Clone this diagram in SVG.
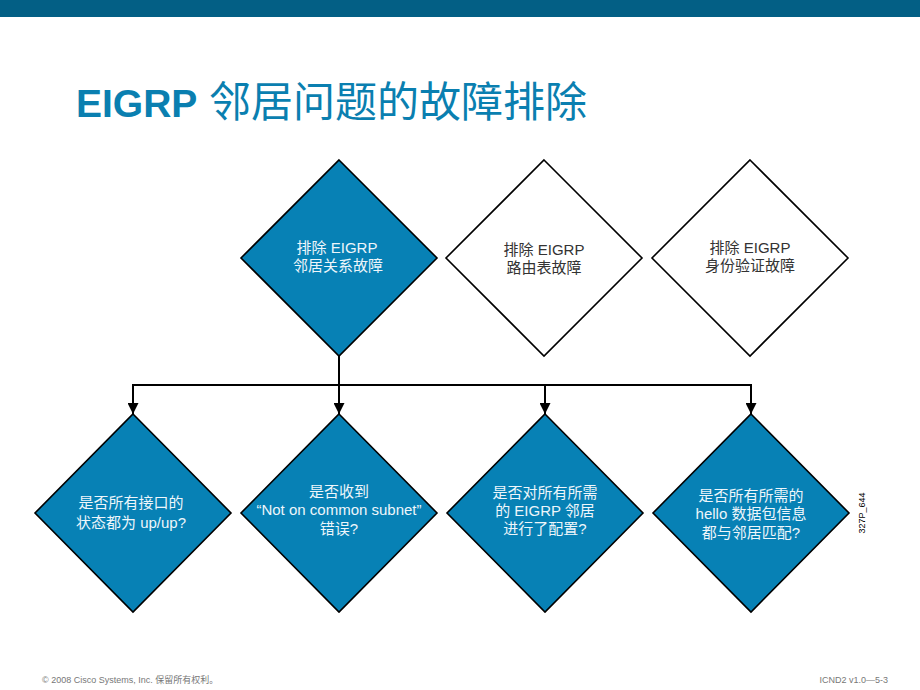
<svg xmlns="http://www.w3.org/2000/svg" width="920" height="690" viewBox="0 0 920 690">
<defs>
<style>
.d{stroke:#000;stroke-width:1.6;stroke-linejoin:miter}
.f{fill:#0781b5}
.w{fill:#fff}
.t{font-family:"Liberation Sans","Noto Sans CJK SC",sans-serif;font-size:15px;text-anchor:middle}
.tw{fill:#eef6fb}
.tk{fill:#333}
.c{stroke:#000;stroke-width:2;fill:none}
</style>
<marker id="ah" markerWidth="11" markerHeight="11" refX="10" refY="5" orient="auto" markerUnits="userSpaceOnUse" viewBox="0 0 10 10">
<path d="M0,0 L10,5 L0,10 Z" fill="#000"/>
</marker>
</defs>
<rect x="0" y="0" width="920" height="690" fill="#fff"/>
<rect x="0" y="0" width="920" height="17" fill="#035f85"/>
<text x="76" y="117" font-family="Liberation Sans,'Noto Sans CJK SC',sans-serif" font-size="39" fill="#0a7fb0"><tspan font-weight="bold">EIGRP</tspan><tspan font-size="42"> 邻居问题的故障排除</tspan></text>

<g id="connectors">
<path class="c" d="M339,355 V385"/>
<path class="c" d="M133,385 H751"/>
<path class="c" d="M133,384 V414" marker-end="url(#ah)"/>
<path class="c" d="M339,385 V414" marker-end="url(#ah)"/>
<path class="c" d="M545,384 V414" marker-end="url(#ah)"/>
<path class="c" d="M751,384 V414" marker-end="url(#ah)"/>
</g>

<g id="n1">
<polygon class="d f" points="339,160 437,258 339,356 241,258"/>
<text class="t tw" x="337" y="253">排除 EIGRP</text>
<text class="t tw" x="338" y="271">邻居关系故障</text>
</g>
<g id="n2">
<polygon class="d w" points="544,160 642,258 544,356 446,258"/>
<text class="t tk" x="544" y="255">排除 EIGRP</text>
<text class="t tk" x="544" y="273">路由表故障</text>
</g>
<g id="n3">
<polygon class="d w" points="750,160 848,258 750,356 652,258"/>
<text class="t tk" x="750" y="253">排除 EIGRP</text>
<text class="t tk" x="750" y="271">身份验证故障</text>
</g>

<g id="n4">
<polygon class="d f" points="133,414 231,513 133,612 35,513"/>
<text class="t tw" x="131" y="508">是否所有接口的</text>
<text class="t tw" x="131" y="528">状态都为 up/up?</text>
</g>
<g id="n5">
<polygon class="d f" points="339,414 437,513 339,612 241,513"/>
<text class="t tw" x="339" y="497">是否收到</text>
<text class="t tw" x="339" y="515">“Not on common subnet”</text>
<text class="t tw" x="339" y="534">错误?</text>
</g>
<g id="n6">
<polygon class="d f" points="545,414 643,513 545,612 447,513"/>
<text class="t tw" x="545" y="498">是否对所有所需</text>
<text class="t tw" x="545" y="516">的 EIGRP 邻居</text>
<text class="t tw" x="545" y="534">进行了配置?</text>
</g>
<g id="n7">
<polygon class="d f" points="751,414 849,513 751,612 653,513"/>
<text class="t tw" x="751" y="501">是否所有所需的</text>
<text class="t tw" x="751" y="519">hello 数据包信息</text>
<text class="t tw" x="751" y="538">都与邻居匹配?</text>
</g>

<text x="0" y="0" transform="translate(865,513) rotate(-90)" font-family="Liberation Sans,sans-serif" font-size="9" text-anchor="middle" fill="#000">327P_644</text>

<text x="42" y="683" font-family="Liberation Sans,'Noto Sans CJK SC',sans-serif" font-size="9" fill="#777">© 2008 Cisco Systems, Inc. 保留所有权利。</text>
<text x="888" y="683" font-family="Liberation Sans,sans-serif" font-size="9" fill="#777" text-anchor="end">ICND2 v1.0—5-3</text>
</svg>
